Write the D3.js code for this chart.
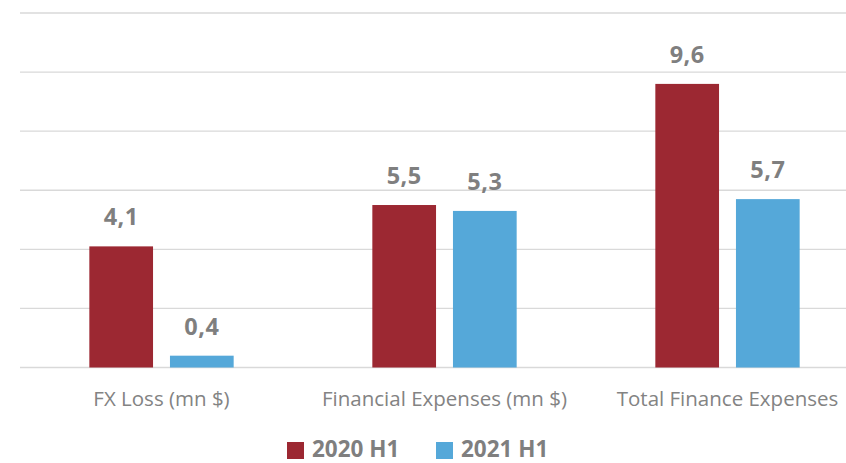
<!DOCTYPE html>
<html>
<head>
<meta charset="utf-8">
<script src="https://cdn.jsdelivr.net/npm/d3@7"></script>
<style>
  body { margin: 0; background: #fff; }
  svg { display: block; font-family: "Open Sans", sans-serif; }
</style>
</head>
<body>
<svg id="chart" width="846" height="463"></svg>
<script>
  // chart data
  var categories = ['FX Loss (mn $)', 'Financial Expenses (mn $)', 'Total Finance Expenses'];
  var seriesNames = ['2020 H1', '2021 H1'];
  var values2020 = [4.1, 5.5, 9.6];
  var values2021 = [0.4, 5.3, 5.7];
  var gridTicks = [0, 2, 4, 6, 8, 10, 12];

  var colors = ['#9c2832', '#55a8d9'];
  var width = 846, height = 463;

  var svg = d3.select('#chart');

  var rows = categories.map(function (c, i) {
    return { cat: c, vals: [values2020[i], values2021[i]] };
  });

  var x0 = d3.scaleBand()
    .domain(categories)
    .range([20, 869])
    .paddingInner(0.49)
    .paddingOuter(0.245);

  var x1 = d3.scaleBand()
    .domain(seriesNames)
    .range([0, x0.bandwidth()])
    .paddingInner(0.21);

  var y = d3.scaleLinear()
    .domain([0, 12])
    .range([367.5, 13]);

  // gridlines
  svg.append('g')
    .selectAll('line')
    .data(gridTicks)
    .enter().append('line')
    .attr('x1', 20)
    .attr('x2', width)
    .attr('y1', function (d) { return y(d); })
    .attr('y2', function (d) { return y(d); })
    .attr('stroke', '#d9d9d9')
    .attr('stroke-width', 1.4);

  var groups = svg.append('g')
    .selectAll('g')
    .data(rows)
    .enter().append('g')
    .attr('transform', function (d) { return 'translate(' + x0(d.cat) + ',0)'; });

  groups.selectAll('rect')
    .data(function (d) { return d.vals.map(function (v, i) { return { s: seriesNames[i], v: v, i: i }; }); })
    .enter().append('rect')
    .attr('x', function (d) { return x1(d.s); })
    .attr('width', x1.bandwidth())
    .attr('y', function (d) { return y(d.v); })
    .attr('height', function (d) { return y(0) - y(d.v); })
    .attr('fill', function (d) { return colors[d.i]; });

  groups.selectAll('text.val')
    .data(function (d) { return d.vals.map(function (v, i) { return { s: seriesNames[i], v: v }; }); })
    .enter().append('text')
    .attr('class', 'val')
    .attr('x', function (d) { return x1(d.s) + x1.bandwidth() / 2; })
    .attr('y', function (d) { return y(d.v) - 21; })
    .attr('text-anchor', 'middle')
    .attr('fill', '#7f7f7f')
    .attr('font-weight', 'bold')
    .attr('font-size', '23.5px')
    .style('letter-spacing', '0.5px')
    .text(function (d) { return d3.format('.1f')(d.v).replace('.', ','); });

  // category labels
  svg.append('g')
    .selectAll('text')
    .data(categories)
    .enter().append('text')
    .attr('x', function (d) { return x0(d) + x0.bandwidth() / 2; })
    .attr('y', 406)
    .attr('text-anchor', 'middle')
    .attr('fill', '#838383')
    .attr('font-size', '20.5px')
    .text(function (d) { return d; });

  // legend (nudged up so the text is not clipped)
  var legendX = [287, 436];
  var legend = svg.append('g')
    .selectAll('g')
    .data(seriesNames)
    .enter().append('g')
    .attr('transform', function (d, i) { return 'translate(' + legendX[i] + ',0)'; });

  legend.append('rect')
    .attr('x', 0)
    .attr('y', 442)
    .attr('width', 17)
    .attr('height', 17)
    .attr('fill', function (d, i) { return colors[i]; });

  legend.append('text')
    .attr('x', 25)
    .attr('y', 457)
    .attr('fill', '#7f7f7f')
    .attr('font-weight', 'bold')
    .attr('font-size', '22.5px')
    .text(function (d) { return d; });
</script>
</body>
</html>
